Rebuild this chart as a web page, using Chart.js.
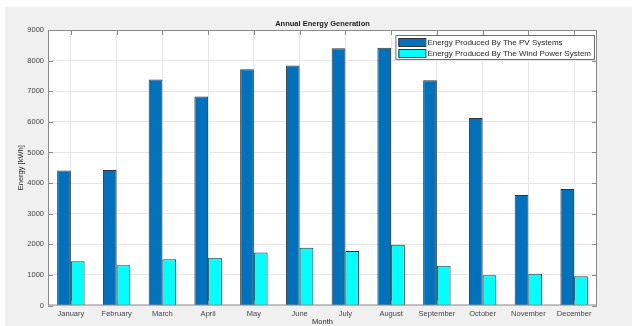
<!DOCTYPE html>
<html>
<head>
<meta charset="utf-8">
<script src="https://cdn.jsdelivr.net/npm/chart.js@4/dist/chart.umd.min.js"></script>
<style>
  html, body { margin: 0; padding: 0; background: #fff; overflow: hidden; }
  #wrap { width: 632px; height: 326px; }
</style>
</head>
<body>
<div id="wrap"><canvas id="energyChart" width="632" height="326"></canvas></div>
<script>
// chart data
const months = ['January', 'February', 'March', 'April', 'May', 'June', 'July',
  'August', 'September', 'October', 'November', 'December'];
const pvEnergy = [4410, 4430, 7380, 6830, 7720, 7840, 8400, 8420, 7360, 6125, 3610, 3805];
const windEnergy = [1445, 1315, 1510, 1560, 1735, 1885, 1780, 1985, 1300, 990, 1040, 955];
const seriesNames = ['Energy Produced By The PV Systems', 'Energy Produced By The Wind Power System'];
const chartTitle = 'Annual Energy Generation';
const yTicks = [0, 1000, 2000, 3000, 4000, 5000, 6000, 7000, 8000, 9000];

const FONT = 'Liberation Sans, Arial, sans-serif';
const boxColor = '#8a8a8a';

// figure background, white axes area, title
const figurePlugin = {
  id: 'figure',
  beforeDraw(chart) {
    const { ctx, chartArea: a } = chart;
    ctx.save();
    ctx.fillStyle = '#f0f0f0';
    ctx.fillRect(5, 7, chart.width - 5, chart.height - 7);
    ctx.fillStyle = '#ffffff';
    ctx.fillRect(a.left, a.top, a.right - a.left, a.bottom - a.top);
    ctx.fillStyle = '#1a1a1a';
    ctx.font = 'bold 7.5px ' + FONT;
    ctx.textAlign = 'center';
    ctx.textBaseline = 'bottom';
    ctx.fillText(chartTitle, (a.left + a.right) / 2, a.top - 2);
    ctx.restore();
  },
  afterDatasetsDraw(chart) {
    const { ctx, chartArea: a, scales } = chart;
    ctx.save();
    ctx.strokeStyle = boxColor;
    ctx.lineWidth = 1;
    ctx.strokeRect(a.left + 0.5, a.top + 0.5, a.right - a.left - 1, a.bottom - a.top - 1);
    // inward tick marks on all sides
    const len = 5;
    ctx.beginPath();
    scales.x.ticks.forEach((t, i) => {
      const x = Math.round(scales.x.getPixelForTick(i)) + 0.5;
      ctx.moveTo(x, a.top); ctx.lineTo(x, a.top + len);
      ctx.moveTo(x, a.bottom); ctx.lineTo(x, a.bottom - len);
    });
    scales.y.ticks.forEach((t, i) => {
      const y = Math.round(scales.y.getPixelForTick(i)) + 0.5;
      ctx.moveTo(a.left, y); ctx.lineTo(a.left + len, y);
      ctx.moveTo(a.right, y); ctx.lineTo(a.right - len, y);
    });
    ctx.stroke();
    ctx.restore();
  },
  afterDraw(chart) {
    // legend inside the axes, top right
    const { ctx, chartArea: a } = chart;
    ctx.save();
    ctx.font = '8px ' + FONT;
    const names = chart.data.datasets.map(d => d.label);
    const textW = Math.max(...names.map(n => ctx.measureText(n).width));
    const w = textW + 35, h = 24;
    const x0 = a.right - 3 - w, y0 = a.top + 5;
    ctx.fillStyle = '#ffffff';
    ctx.fillRect(x0, y0, w, h);
    ctx.strokeStyle = '#6e6e6e';
    ctx.lineWidth = 1;
    ctx.strokeRect(x0 + 0.5, y0 + 0.5, w, h);
    chart.data.datasets.forEach((d, i) => {
      const cy = y0 + 7 + i * 11;
      ctx.fillStyle = d.backgroundColor;
      ctx.fillRect(x0 + 3, cy - 4, 27, 8);
      ctx.strokeStyle = '#333';
      ctx.strokeRect(x0 + 3.5, cy - 3.5, 27, 8);
      ctx.fillStyle = '#262626';
      ctx.textBaseline = 'middle';
      ctx.textAlign = 'left';
      ctx.fillText(d.label, x0 + 32, cy + 0.5);
    });
    ctx.restore();
  }
};

const ctx = document.getElementById('energyChart').getContext('2d');
const energyChart = new Chart(ctx, {
  type: 'bar',
  data: {
    labels: months,
    datasets: [{
      label: seriesNames[0],
      data: pvEnergy,
      backgroundColor: '#0072bd',
      borderColor: '#333333',
      borderWidth: 1,
      categoryPercentage: 0.6,
      barPercentage: 1.0
    }, {
      label: seriesNames[1],
      data: windEnergy,
      backgroundColor: '#00ffff',
      borderColor: '#333333',
      borderWidth: 1,
      categoryPercentage: 0.6,
      barPercentage: 1.0
    }]
  },
  options: {
    responsive: false,
    animation: false,
    devicePixelRatio: 1,
    layout: { padding: { left: 0, right: 35, top: 30, bottom: 0 } },
    plugins: {
      legend: { display: false },
      title: { display: false },
      tooltip: { enabled: false }
    },
    scales: {
      x: {
        offset: true,
        grid: { offset: false, color: '#e6e6e6', drawTicks: false },
        border: { display: false },
        ticks: { padding: 4, color: '#444', font: { family: FONT, size: 7.5 }, maxRotation: 0, autoSkip: false },
        title: { display: true, text: 'Month', color: '#262626', font: { family: FONT, size: 7.5 }, padding: { top: 0, bottom: 0 } },
        afterFit(scale) { scale.height = 20.5; }
      },
      y: {
        min: 0,
        max: 9000,
        afterBuildTicks(scale) { scale.ticks = yTicks.map(v => ({ value: v })); },
        grid: { color: '#e6e6e6', drawTicks: false },
        border: { display: false },
        ticks: {
          padding: 4, color: '#444', font: { family: FONT, size: 7.5 },
          callback: (v) => String(v)
        },
        title: { display: true, text: 'Energy [kWh]', color: '#262626', font: { family: FONT, size: 7.5 }, padding: { top: 16, bottom: 0 } },
        afterFit(scale) { scale.width = 48; }
      }
    }
  },
  plugins: [figurePlugin]
});
</script>
</body>
</html>
